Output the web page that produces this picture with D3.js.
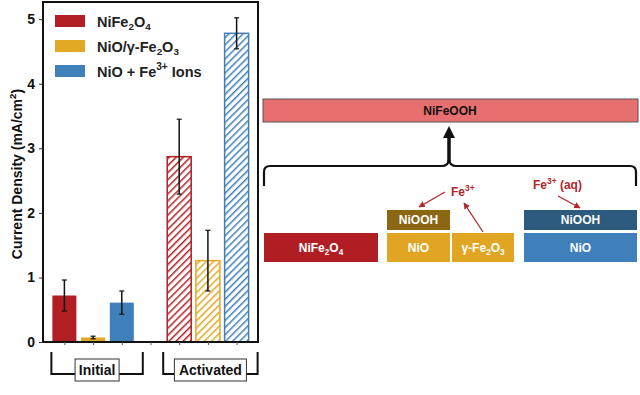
<!DOCTYPE html>
<html>
<head>
<meta charset="utf-8">
<script src="https://cdn.jsdelivr.net/npm/d3@7"></script>
<style>
  body { margin: 0; background: #fff; }
  svg { font-family: "Liberation Sans", Arial, sans-serif; }
</style>
</head>
<body>
<div id="chart"></div>
<script>
// data
var groups = ["Initial", "Activated"];
var seriesColors = ["#b11f24", "#e1a823", "#3f7fba"];
var initialValues = [0.72, 0.07, 0.61];
var initialErrors = [0.24, 0.02, 0.18];
var activatedValues = [2.87, 1.26, 4.78];
var activatedErrors = [0.58, 0.47, 0.24];
var yTicks = [0, 1, 2, 3, 4, 5];

// legend names: [text, 0 normal / 1 subscript / 2 superscript]
var seriesNames = [
    [["NiFe", 0], ["2", 1], ["O", 0], ["4", 1]],
    [["NiO/γ-Fe", 0], ["2", 1], ["O", 0], ["3", 1]],
    [["NiO + Fe", 0], ["3+", 2], ["  Ions", 0]]
];

// schematic boxes (right panel)
var boxes = [
    {label: [["NiFe", 0], ["2", 1], ["O", 0], ["4", 1]], x: 264, y: 233, w: 114, h: 29, fill: "#b01e23"},
    {label: [["NiOOH", 0]], x: 387, y: 210, w: 63, h: 20, fill: "#8c6713"},
    {label: [["NiO", 0]], x: 387, y: 233, w: 63, h: 29, fill: "#e0a623"},
    {label: [["γ-Fe", 0], ["2", 1], ["O", 0], ["3", 1]], x: 452, y: 233, w: 62, h: 29, fill: "#e0a623"},
    {label: [["NiOOH", 0]], x: 524, y: 210, w: 113, h: 20, fill: "#2d5a7f"},
    {label: [["NiO", 0]], x: 524, y: 233, w: 113, h: 29, fill: "#3f7fba"}
];

var width = 640, height = 395;
var svg = d3.select("#chart").append("svg")
    .attr("width", width).attr("height", height);

var defs = svg.append("defs");
seriesColors.forEach(function (c, i) {
    var p = defs.append("pattern")
        .attr("id", "hatch" + i)
        .attr("patternUnits", "userSpaceOnUse")
        .attr("width", 5).attr("height", 5)
        .attr("patternTransform", "rotate(45)");
    p.append("rect").attr("width", 5).attr("height", 5).attr("fill", "#fff");
    p.append("line").attr("x1", 0).attr("y1", 0).attr("x2", 0).attr("y2", 5)
        .attr("stroke", c).attr("stroke-width", 3);
});

// helper for chemical formulas with sub / superscripts
function chem(sel, parts, size) {
    var off = 0;
    parts.forEach(function (p) {
        var t = sel.append("tspan").text(p[0]);
        var target = 0;
        if (p[1] == 1) { target = size * 0.25; t.attr("font-size", size * 0.68); }
        if (p[1] == 2) { target = -size * 0.45; t.attr("font-size", size * 0.7); }
        if (target != off) t.attr("dy", target - off);
        off = target;
    });
}

// ---- bar chart ----
var plotLeft = 43, plotRight = 258, plotTop = 2, plotBottom = 342;

var y = d3.scaleLinear().domain([0, 5.265]).range([plotBottom, plotTop]);

var slots = ["i0", "i1", "i2", "gap", "a0", "a1", "a2"];
var x = d3.scalePoint().domain(slots).range([plotLeft, plotRight]).padding(0.745);
var barW = 24;

var bars = [];
initialValues.forEach(function (v, i) {
    bars.push({slot: "i" + i, v: v, e: initialErrors[i], s: i, hatch: false});
});
activatedValues.forEach(function (v, i) {
    bars.push({slot: "a" + i, v: v, e: activatedErrors[i], s: i, hatch: true});
});

svg.selectAll("rect.bar")
    .data(bars)
    .enter()
    .append("rect")
    .attr("class", "bar")
    .attr("x", function (d) { return x(d.slot) - barW / 2; })
    .attr("y", function (d) { return y(d.v); })
    .attr("width", barW)
    .attr("height", function (d) { return y(0) - y(d.v); })
    .attr("fill", function (d) { return d.hatch ? "url(#hatch" + d.s + ")" : seriesColors[d.s]; })
    .attr("stroke", function (d) { return d.hatch ? seriesColors[d.s] : "none"; })
    .attr("stroke-width", 1.5);

// error bars
var eb = svg.selectAll("g.err").data(bars).enter().append("g").attr("class", "err");
eb.append("line")
    .attr("x1", function (d) { return x(d.slot); })
    .attr("x2", function (d) { return x(d.slot); })
    .attr("y1", function (d) { return y(d.v + d.e); })
    .attr("y2", function (d) { return y(d.v - d.e); })
    .attr("stroke", "#111").attr("stroke-width", 1.5);
[1, -1].forEach(function (k) {
    eb.append("line")
        .attr("x1", function (d) { return x(d.slot) - 2.5; })
        .attr("x2", function (d) { return x(d.slot) + 2.5; })
        .attr("y1", function (d) { return y(d.v + k * d.e); })
        .attr("y2", function (d) { return y(d.v + k * d.e); })
        .attr("stroke", "#111").attr("stroke-width", 1.2);
});

// frame
svg.append("rect")
    .attr("x", plotLeft).attr("y", plotTop)
    .attr("width", plotRight - plotLeft).attr("height", plotBottom - plotTop)
    .attr("fill", "none").attr("stroke", "#111").attr("stroke-width", 2);

// y axis
var yAxis = svg.append("g")
    .attr("transform", "translate(" + plotLeft + ",0)")
    .call(d3.axisLeft(y).tickValues(yTicks).tickSize(4).tickPadding(4).tickFormat(d3.format("d")));
yAxis.select(".domain").remove();
yAxis.selectAll("text").attr("font-size", 14).attr("font-weight", "bold")
    .attr("fill", "#111").attr("font-family", "Liberation Sans, Arial, sans-serif");
yAxis.selectAll("line").attr("stroke", "#333");

// x ticks
var xAxis = svg.append("g")
    .attr("transform", "translate(0," + plotBottom + ")")
    .call(d3.axisBottom(x).tickSize(3).tickFormat(""));
xAxis.select(".domain").remove();
xAxis.selectAll("line").attr("stroke", "#555");

// y label
var ylab = svg.append("text")
    .attr("transform", "translate(22,174) rotate(-90)")
    .attr("text-anchor", "middle")
    .attr("font-size", 14).attr("font-weight", "bold").attr("fill", "#111");
chem(ylab, [["Current Density (mA/cm", 0], ["2", 2], [")", 0]], 14);

// legend
seriesNames.forEach(function (name, i) {
    var ly = 21 + i * 25;
    svg.append("rect")
        .attr("x", 55).attr("y", ly - 6).attr("width", 30).attr("height", 12)
        .attr("fill", seriesColors[i]);
    var t = svg.append("text")
        .attr("x", 97).attr("y", ly + 5.5)
        .attr("font-size", 14.5).attr("font-weight", "bold").attr("fill", "#222");
    chem(t, name, 14.5);
});

// group brackets
var groupSlots = [["i0", "i2"], ["a0", "a2"]];
groups.forEach(function (g, i) {
    var x0 = x(groupSlots[i][0]) - 13, x1 = x(groupSlots[i][1]) + 21;
    if (i == 1) { x0 = x(groupSlots[i][0]) - 16; x1 = x(groupSlots[i][1]) + 21; }
    svg.append("path")
        .attr("d", "M" + x0 + ",352V374H" + x1 + "V352")
        .attr("fill", "none").attr("stroke", "#111").attr("stroke-width", 2);
    var cx = (x0 + x1) / 2;
    var bw = i == 0 ? 44 : 72;
    svg.append("rect")
        .attr("x", cx - bw / 2).attr("y", 359).attr("width", bw).attr("height", 22)
        .attr("fill", "#fff").attr("stroke", "#333").attr("stroke-width", 1);
    svg.append("text")
        .attr("x", cx).attr("y", 375)
        .attr("text-anchor", "middle")
        .attr("font-size", 14).attr("font-weight", "bold").attr("fill", "#111")
        .text(g);
});

// ---- schematic ----
svg.append("rect")
    .attr("x", 263).attr("y", 99).attr("width", 375).attr("height", 23)
    .attr("fill", "#e86f6f").attr("stroke", "#555").attr("stroke-width", 1);
svg.append("text")
    .attr("x", 450).attr("y", 115).attr("text-anchor", "middle")
    .attr("font-size", 12).attr("font-weight", "bold").attr("fill", "#111")
    .text("NiFeOOH");

// up arrow
svg.append("line")
    .attr("x1", 449).attr("x2", 449).attr("y1", 163).attr("y2", 136)
    .attr("stroke", "#111").attr("stroke-width", 3.5);
svg.append("path")
    .attr("d", "M449,126L455,138L443,138Z").attr("fill", "#111");

// curly brace
svg.append("path")
    .attr("d", "M264,186V172Q264,166 270,166H442Q448,166 449,160Q450,166 456,166H630Q636,166 636,172V186")
    .attr("fill", "none").attr("stroke", "#111").attr("stroke-width", 2.2);

// boxes
boxes.forEach(function (b) {
    svg.append("rect")
        .attr("x", b.x).attr("y", b.y).attr("width", b.w).attr("height", b.h)
        .attr("fill", b.fill);
    var t = svg.append("text")
        .attr("x", b.x + b.w / 2).attr("y", b.y + b.h / 2 + 4)
        .attr("text-anchor", "middle")
        .attr("font-size", 12).attr("font-weight", "bold").attr("fill", "#fff");
    chem(t, b.label, 12);
});

// Fe3+ labels and arrows
defs.append("marker")
    .attr("id", "redhead").attr("viewBox", "0 0 10 10")
    .attr("refX", 9).attr("refY", 5)
    .attr("markerWidth", 5).attr("markerHeight", 5)
    .attr("orient", "auto")
    .append("path").attr("d", "M0,0L10,5L0,10Z").attr("fill", "#b3262b");

var red = "#b3262b";
var fe1 = svg.append("text").attr("x", 451).attr("y", 196)
    .attr("font-size", 12).attr("font-weight", "bold").attr("fill", red);
chem(fe1, [["Fe", 0], ["3+", 2]], 12);
var fe2 = svg.append("text").attr("x", 533).attr("y", 189)
    .attr("font-size", 12).attr("font-weight", "bold").attr("fill", red);
chem(fe2, [["Fe", 0], ["3+", 2], [" (aq)", 0]], 12);

[[445, 192, 419, 207], [483, 232, 464, 203], [558, 196, 580, 208]].forEach(function (a) {
    svg.append("line")
        .attr("x1", a[0]).attr("y1", a[1]).attr("x2", a[2]).attr("y2", a[3])
        .attr("stroke", red).attr("stroke-width", 1.3)
        .attr("marker-end", "url(#redhead)");
});
</script>
</body>
</html>
